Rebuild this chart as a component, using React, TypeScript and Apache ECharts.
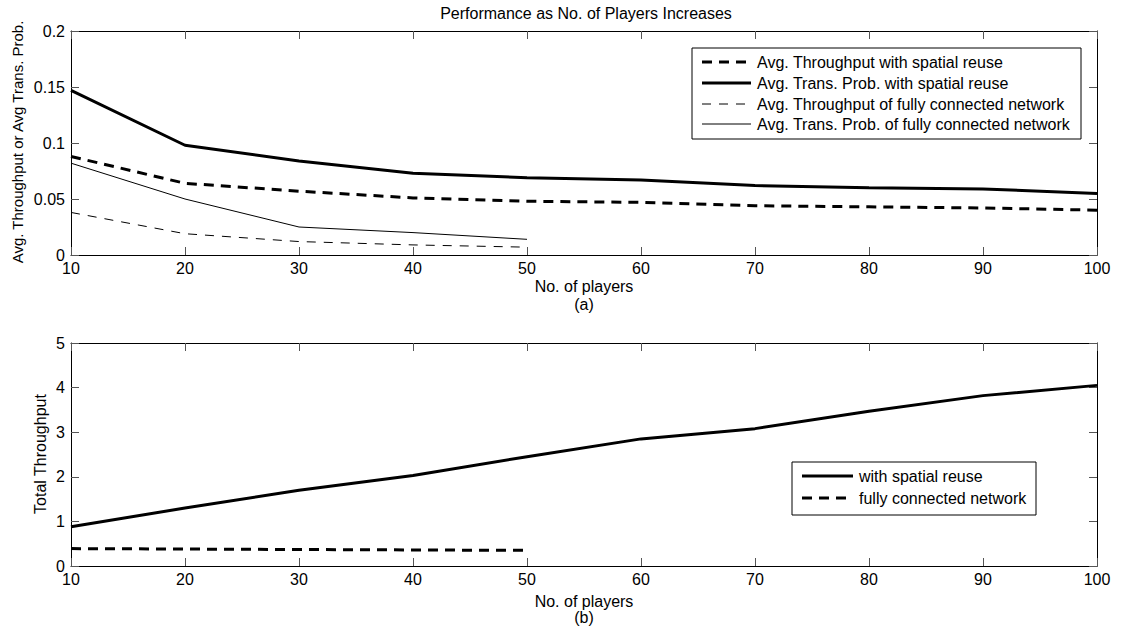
import React, { useEffect, useRef } from "react";
import * as echarts from "echarts";

const players = [10, 20, 30, 40, 50, 60, 70, 80, 90, 100];
const playersFull = [10, 20, 30, 40, 50];

const thrSpatial = [0.088, 0.064, 0.057, 0.051, 0.048, 0.047, 0.044, 0.043, 0.042, 0.040];
const probSpatial = [0.147, 0.098, 0.084, 0.073, 0.069, 0.067, 0.062, 0.060, 0.059, 0.055];
const thrFull = [0.038, 0.019, 0.012, 0.009, 0.007];
const probFull = [0.082, 0.050, 0.025, 0.020, 0.014];

const totalSpatial = [0.88, 1.3, 1.7, 2.03, 2.45, 2.85, 3.08, 3.47, 3.82, 4.05];
const totalFull = [0.39, 0.38, 0.37, 0.36, 0.35];

const topLegend = [
  "Avg. Throughput with spatial reuse",
  "Avg. Trans. Prob. with spatial reuse",
  "Avg. Throughput of fully connected network",
  "Avg. Trans. Prob. of fully connected network",
];
const bottomLegend = ["with spatial reuse", "fully connected network"];

const FONT = "Liberation Sans, Arial, Helvetica, sans-serif";

const pair = (xs: number[], ys: number[]) => xs.map((x, i) => [x, ys[i]]);

const thickDash = [10, 7];
const thinDash = [9, 8];

export default function App() {
  const ref = useRef<HTMLDivElement>(null);
  useEffect(() => {
    if (!ref.current) return;
    const chart = echarts.init(ref.current, null, { renderer: "svg" });
    const axisText = { color: "#000", fontSize: 16, fontFamily: FONT };
    const baseX = (gridIndex: number, withLabels: boolean, position: string) => ({
      type: "value",
      gridIndex,
      position,
      min: 10,
      max: 100,
      interval: 10,
      axisLine: { show: true, onZero: false, lineStyle: { color: "#000", width: 1 } },
      axisTick: { show: true, inside: true, length: 8, lineStyle: { color: "#555" } },
      axisLabel: { show: withLabels, ...axisText, margin: 5 },
      splitLine: { show: false },
    });
    const baseY = (
      gridIndex: number,
      withLabels: boolean,
      position: string,
      max: number,
      interval: number
    ) => ({
      type: "value",
      gridIndex,
      position,
      min: 0,
      max,
      interval,
      axisLine: { show: true, onZero: false, lineStyle: { color: "#000", width: 1 } },
      axisTick: { show: true, inside: true, length: 8, lineStyle: { color: "#555" } },
      axisLabel: { show: withLabels, ...axisText, margin: 6 },
      splitLine: { show: false },
    });

    const lineSeries = (
      name: string,
      xAxisIndex: number,
      yAxisIndex: number,
      data: number[][],
      width: number,
      type: any
    ) => ({
      name,
      type: "line",
      xAxisIndex,
      yAxisIndex,
      data,
      showSymbol: false,
      symbol: "none",
      lineStyle: { color: "#000", width, type },
      z: 3,
    });

    const text = (
      s: string,
      x: number,
      y: number,
      size: number,
      rotation = 0
    ) => ({
      type: "text",
      x,
      y,
      rotation,
      style: {
        text: s,
        fill: "#000",
        fontSize: size,
        fontFamily: FONT,
        align: "center",
        verticalAlign: "middle",
      },
    });

    const legendBox = (
      x: number,
      y: number,
      w: number,
      h: number,
      rowY: number[],
      labels: string[],
      styles: { width: number; dash: any }[],
      lx: number,
      lw: number,
      tx: number
    ) => {
      const els: any[] = [
        {
          type: "rect",
          shape: { x, y, width: w, height: h },
          style: { fill: "#fff", stroke: "#000", lineWidth: 1 },
          z: 10,
        },
      ];
      rowY.forEach((ry, i) => {
        els.push({
          type: "line",
          shape: { x1: x + lx, y1: ry, x2: x + lx + lw, y2: ry },
          style: {
            stroke: "#000",
            lineWidth: styles[i].width,
            lineDash: styles[i].dash,
          },
          z: 11,
        });
        els.push({
          type: "text",
          x: x + tx,
          y: ry,
          style: {
            text: labels[i],
            fill: "#000",
            fontSize: 16,
            fontFamily: FONT,
            verticalAlign: "middle",
          },
          z: 11,
        });
      });
      return els;
    };

    const option: any = {
      animation: false,
      backgroundColor: "#fff",
      grid: [
        { left: 71, top: 31, width: 1026, height: 224, containLabel: false },
        { left: 71, top: 343, width: 1026, height: 223, containLabel: false },
      ],
      xAxis: [
        baseX(0, true, "bottom"),
        baseX(0, false, "top"),
        baseX(1, true, "bottom"),
        baseX(1, false, "top"),
      ],
      yAxis: [
        baseY(0, true, "left", 0.2, 0.05),
        baseY(0, false, "right", 0.2, 0.05),
        baseY(1, true, "left", 5, 1),
        baseY(1, false, "right", 5, 1),
      ],
      series: [
        lineSeries(topLegend[0], 0, 0, pair(players, thrSpatial), 3, thickDash),
        lineSeries(topLegend[1], 0, 0, pair(players, probSpatial), 3, "solid"),
        lineSeries(topLegend[2], 0, 0, pair(playersFull, thrFull), 1, thinDash),
        lineSeries(topLegend[3], 0, 0, pair(playersFull, probFull), 1, "solid"),
        lineSeries(bottomLegend[0], 2, 2, pair(players, totalSpatial), 3, "solid"),
        lineSeries(bottomLegend[1], 2, 2, pair(playersFull, totalFull), 3, thickDash),
      ],
      graphic: [
        text("Performance as No. of Players Increases", 586, 13, 16),
        text("No. of players", 584, 286, 16),
        text("(a)", 584, 304, 16),
        text("No. of players", 584, 601, 16),
        text("(b)", 584, 617, 16),
        text("Avg. Throughput or Avg Trans. Prob.", 17, 142, 15, Math.PI / 2),
        text("Total Throughput", 40, 454, 16, Math.PI / 2),
        ...legendBox(
          692,
          48,
          389,
          91,
          [62, 83, 104, 124],
          topLegend,
          [
            { width: 3, dash: thickDash },
            { width: 3, dash: null },
            { width: 1, dash: thinDash },
            { width: 1, dash: null },
          ],
          10,
          49,
          65
        ),
        ...legendBox(
          792,
          462,
          244,
          53,
          [476, 498],
          bottomLegend,
          [
            { width: 3, dash: null },
            { width: 3, dash: thickDash },
          ],
          10,
          51,
          67
        ),
      ],
    };
    chart.setOption(option);
    return () => chart.dispose();
  }, []);
  return (
    <div
      ref={ref}
      style={{ position: "absolute", left: 0, top: 0, width: 1122, height: 633 }}
    />
  );
}
